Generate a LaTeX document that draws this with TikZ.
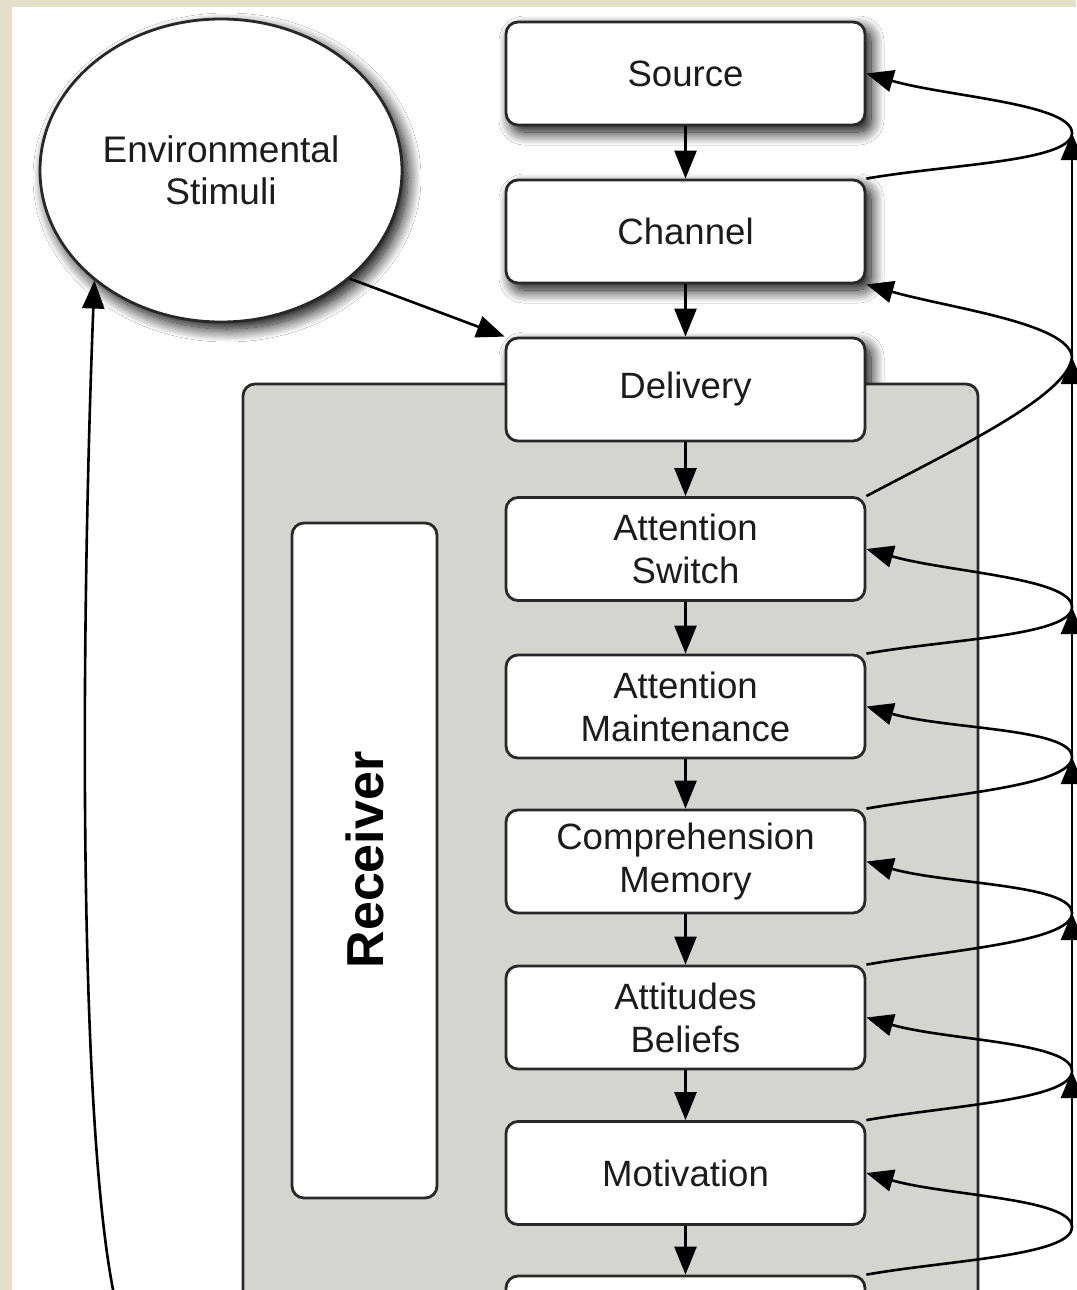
\documentclass[tikz,border=0pt]{standalone}
\usepackage{fontspec}
\setmainfont{Liberation Sans}
\usetikzlibrary{arrows.meta,shapes.geometric,shadows.blur}
\definecolor{framebeige}{RGB}{226,224,201}
\definecolor{recvgray}{RGB}{212,212,209}
\definecolor{edgecol}{RGB}{40,40,40}
\definecolor{inkcol}{RGB}{28,28,28}
\tikzset{
  stage/.style={draw=edgecol, line width=1.4pt, fill=white, rounded corners=6pt,
    minimum width=179.5pt, minimum height=51.5pt, align=center, text=inkcol,
    inner sep=0pt, font=\fontsize{18.3}{21.5}\selectfont},
  softshadow/.style={blur shadow={shadow xshift=3pt, shadow yshift=-3.5pt,
    shadow blur radius=6.5pt, shadow opacity=100, shadow blur steps=18}},
  flow/.style={line width=1.3pt, draw=black, -{Triangle[length=14pt,width=11pt]}},
  feed/.style={line width=1.3pt, draw=black, -{Triangle[length=13.5pt,width=11pt]}},
}
\begin{document}
\begin{tikzpicture}[x=0.5pt, y=-0.5pt]
\useasboundingbox (0,0) rectangle (1076,1290);
% page frame
\fill[framebeige] (0,0) rectangle (1076,1290);
\fill[white] (12,7) rectangle (1090,1310);

% environmental stimuli
\node[ellipse, draw=edgecol, line width=1.4pt, fill=white, softshadow,
      minimum width=181pt, minimum height=151.5pt, align=center, text=inkcol,
      font=\fontsize{18.5}{21}\selectfont, inner sep=0pt]
  (env) at (221,170.5) {Environmental\\Stimuli};

% upstream stages
\node[stage, softshadow] (src) at (685.5,73.5) {Source};
\node[stage, softshadow] (ch) at (685.5,231.5) {Channel};
\path[softshadow, rounded corners=6pt, fill=white] (506,338) rectangle (865,441);

% receiver panel
\draw[fill=recvgray, draw=edgecol, line width=1.4pt, rounded corners=6pt]
  (243,384) rectangle (978,1330);
\node[draw=edgecol, line width=1.4pt, fill=white, rounded corners=6pt,
      minimum width=72.5pt, minimum height=337.5pt, inner sep=0pt]
  (recvlabel) at (364.5,860.5) {};
\node[rotate=90, font=\fontsize{26}{30}\selectfont\bfseries, text=black]
  (recvtext) at (365,860) {Receiver};

% receiver stages
\node[stage] (del) at (685.5,389.5) {Delivery};
\node[stage] (asw) at (685.5,549) {Attention\\Switch};
\node[stage] (amt) at (685.5,706.5) {Attention\\Maintenance};
\node[stage] (cmp) at (685.5,861.5) {Comprehension\\Memory};
\node[stage] (atb) at (685.5,1017.5) {Attitudes\\Beliefs};
\node[stage] (mot) at (685.5,1173) {Motivation};
\node[stage] (nxt) at (685.5,1327.5) {};

% main chain
\draw[flow] (src) -- (ch);
\draw[flow] (ch) -- (del);
\draw[flow] (del) -- (asw);
\draw[flow] (asw) -- (amt);
\draw[flow] (amt) -- (cmp);
\draw[flow] (cmp) -- (atb);
\draw[flow] (atb) -- (mot);
\draw[flow] (mot) -- (nxt);

% stimuli into delivery
\draw[flow] (env.320) -- (del.north west);

% loop back up to the stimuli
\coordinate (loopstart) at (120,1320);
\draw[flow] (loopstart) .. controls (78,1170) and (80,650) .. (env.221);

% feedback spine on the right
\coordinate (v1) at (1072,133);
\coordinate (v2) at (1072,357);
\coordinate (v3) at (1072,607);
\coordinate (v4) at (1072,757);
\coordinate (v5) at (1072,913);
\coordinate (v6) at (1072,1071);
\coordinate (v7) at (1072,1227);

\draw[feed] (v7) -- (v6);
\draw[feed] (v6) -- (v5);
\draw[feed] (v5) -- (v4);
\draw[feed] (v4) -- (v3);
\draw[feed] (v3) -- (v2);
\draw[feed] (v2) -- (v1);

\draw[feed] (ch.north east) to[out=10, in=-90, in looseness=0.35] (v1)
  to[out=90, in=-16, out looseness=0.35] (src.east);
\draw[feed] (asw.north east) to[out=28, in=-95, in looseness=0.4] (v2)
  to[out=95, in=-16, out looseness=0.4] (ch.south east);
\draw[feed] (amt.north east) to[out=10, in=-90, in looseness=0.35] (v3)
  to[out=90, in=-16, out looseness=0.35] (asw.east);
\draw[feed] (cmp.north east) to[out=10, in=-90, in looseness=0.35] (v4)
  to[out=90, in=-16, out looseness=0.35] (amt.east);
\draw[feed] (atb.north east) to[out=10, in=-90, in looseness=0.35] (v5)
  to[out=90, in=-16, out looseness=0.35] (cmp.east);
\draw[feed] (mot.north east) to[out=10, in=-90, in looseness=0.35] (v6)
  to[out=90, in=-16, out looseness=0.35] (atb.east);
\draw[feed] (nxt.north east) to[out=10, in=-90, in looseness=0.35] (v7)
  to[out=90, in=-16, out looseness=0.35] (mot.east);
\end{tikzpicture}
\end{document}
